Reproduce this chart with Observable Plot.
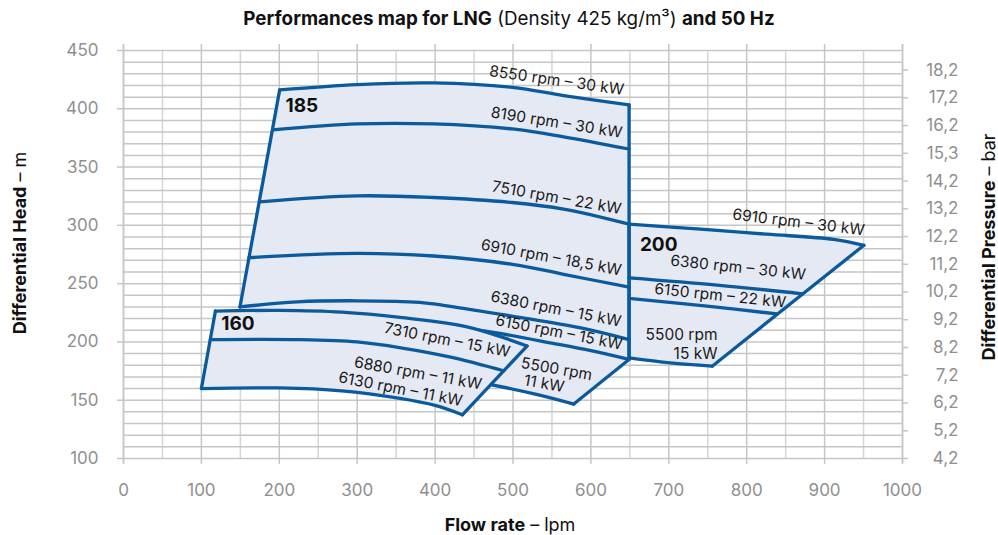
<!DOCTYPE html>
<html><head><meta charset="utf-8">
<script src="https://cdn.jsdelivr.net/npm/d3@7"></script>
<script src="https://cdn.jsdelivr.net/npm/@observablehq/plot@0.6"></script>
<style>
body{margin:0;background:#fff;}
#chart{width:998px;height:535px;}
</style>
</head><body><div id="chart"></div>
<script>
// ---- Data (flow rate lpm, differential head m) ----
// Impeller 185
const r185_8550 = [[200.5,416.2],[300,420.8],[398,422.2],[499,418.4],[565,411.3],[649,403.3]];
const r185_8190 = [[191.5,382],[300,387],[398,387],[499,382.7],[565,376],[649,365.5]];
const r185_7510 = [[174.5,320.2],[300,325.3],[398,323.9],[499,319.6],[565,313.9],[649,301]];
const r185_6910 = [[161,272.3],[300,276],[398,273.7],[499,266.6],[565,258],[649,247]];
const r185_6380 = [[149.5,230],[223,234.4],[300,235.3],[380,234],[415,231],[500,222],[587,212],[649,202]];
const r185_6150 = [[355,218],[420,213.5],[477,208],[550,199],[600,192.5],[649,185]];
const r185_5500 = [[420,169],[471,163.4],[530,155],[578,146.7]];
const r185_left = [[200.5,416.2],[149.5,230]];
const r185_right = [[649,403.3],[649,185]];
const r185_diag = [[649,185],[578,146.7]];
const r185_hidden = [[300,200],[160,222]];
// Impeller 200
const r200_6910 = [[649,301],[741,296.7],[826,292.4],[911.6,288],[950.4,282.9]];
const r200_6380 = [[649,255],[762,248.8],[871,241.3]];
const r200_6150 = [[649,237.3],[749,230.7],[839,224]];
const r200_5500 = [[649,186.3],[702,182],[755.7,179.2]];
const r200_right = [[950.4,282.9],[755.7,179.2]];
const r200_left = [[649,301],[649,186.3]];
// Impeller 160
const r160_7310 = [[118,226.5],[200,227],[280,225.5],[355,221],[441,213],[518,196.5]];
const r160_6880 = [[111.5,202],[227,202],[300,200],[356,195],[420,187],[488,175.3]];
const r160_6130 = [[100,160],[200,160.5],[280,158],[355,151.5],[400,145.5],[435,137.5]];
const r160_left = [[118,226.5],[100,160]];
const r160_right = [[518,196.5],[435,137.5]];

// Curve labels
const labelText = ["8550 rpm – 30 kW","8190 rpm – 30 kW","7510 rpm – 22 kW","6910 rpm – 18,5 kW","6380 rpm – 15 kW","6150 rpm – 15 kW","7310 rpm – 15 kW","6880 rpm – 11 kW","6130 rpm – 11 kW","5500 rpm","11 kW","6910 rpm – 30 kW","6380 rpm – 30 kW","6150 rpm – 22 kW"];
const labelX = [556,556,556,549,555,559,415.5,378,355.5,556,540,866.5,789,766];
const labelY = [424.2,388.1,323.6,272.4,228.2,208.1,201.5,173,159.4,176.6,164.1,302.5,263.7,239.6];
const labelAngle = [8,9,10,10.5,11,11,11,10,11,10,10,7,6,6];
const label200Text = ["5500 rpm","15 kW"];
const label200X = [762.5,762.5];
const label200Y = [206,190];
const regionText = ["185","200","160"];
const regionX = [229,687,147];
const regionY = [402.3,283.6,215.7];

// Axis ticks
const xTicks = [0,100,200,300,400,500,600,700,800,900,1000];
const yTicks = [100,150,200,250,300,350,400,450];
const barLabels = ["4,2","5,2","6,2","7,2","8,2","9,2","10,2","11,2","12,2","13,2","14,2","15,3","16,2","17,2","18,2"];
const barHead = [100,123.8,147.6,171.4,195.2,219,242.8,266.6,290.4,314.2,338,361.8,385.6,409.4,433.2];

// ---- Build tables ----
const blue = "#0b5a9d", fillC = "#e4e9f4", gridC = "#c6c6c6", gridL = "#d6d6d6", tickC = "#8f8f8f";
const toRows = (segs) => segs.flatMap((s, i) => s.map(p => ({id: i, x: p[0], y: p[1]})));
const lines185 = toRows([r185_8550,r185_8190,r185_7510,r185_6910,r185_6380,r185_6150,r185_5500,r185_left,r185_right,r185_diag]);
const lines200 = toRows([r200_6910,r200_6380,r200_6150,r200_5500,r200_right,r200_left]);
const lines160 = toRows([r160_7310,r160_6880,r160_6130,r160_left,r160_right]);
const poly185 = [...r185_8550, r185_diag[0], ...r185_5500.slice().reverse(), ...r185_hidden, r185_left[1]];
const poly200 = [...r200_6910, ...r200_5500.slice().reverse()];
const poly160 = [...r160_7310, ...r160_6130.slice().reverse()];
const labels = labelText.map((t,i)=>({t, x: labelX[i], y: labelY[i], a: labelAngle[i]}));
const labels200 = label200Text.map((t,i)=>({t, x: label200X[i], y: label200Y[i]}));
const regions = regionText.map((t,i)=>({t, x: regionX[i], y: regionY[i]}));
const bars = barLabels.map((t,i)=>({t, y: barHead[i]}));
const gridX = d3.range(0, 1001, 50);
const gridY = d3.range(100, 451, 10);

const lineOpts = {x: "x", y: "y", z: "id", stroke: blue, strokeWidth: 3.3, curve: "catmull-rom"};
const polyOpts = {x: d=>d[0], y: d=>d[1], fill: fillC, stroke: "none", curve: "linear"};
const font = "Inter, 'Open Sans', sans-serif";

const chart = Plot.plot({
  width: 998, height: 535,
  marginLeft: 123, marginRight: 96, marginTop: 50, marginBottom: 77,
  style: {fontFamily: font, background: "#fff"},
  x: {domain: [0, 1000], axis: null},
  y: {domain: [100, 450], axis: null},
  marks: [
    Plot.ruleX(gridX, {x: d=>d, y1: 450, y2: 100, stroke: d => d % 100 ? gridL : gridC, strokeWidth: 1.5}),
    Plot.ruleY(gridY, {y: d=>d, x1: 0, x2: 1000, stroke: gridC, strokeWidth: 1.5}),
    Plot.ruleX([0, 1000], {x: d=>d, y1: 450, y2: 100, insetTop: -6, insetBottom: -5, stroke: gridC, strokeWidth: 1.5}),
    Plot.ruleX(xTicks, {x: d=>d, y1: 100, y2: 100, insetBottom: -6, stroke: gridC, strokeWidth: 1.5}),
    Plot.ruleX(xTicks, {x: d=>d, y1: 450, y2: 450, insetTop: -6, stroke: gridC, strokeWidth: 1.5}),
    Plot.ruleY(yTicks, {y: d=>d, x1: 0, x2: 0, insetLeft: -6, stroke: gridC, strokeWidth: 1.5}),
    Plot.ruleY(bars, {y: "y", x1: 1000, x2: 1000, insetRight: -6, stroke: gridC, strokeWidth: 1.5}),
    Plot.text(xTicks, {x: d=>d, y: 100, dy: 32, text: d=>String(d), fill: tickC, fontSize: 17}),
    Plot.text(yTicks, {x: 0, y: d=>d, dx: -25, textAnchor: "end", text: d=>String(d), fill: tickC, fontSize: 17}),
    Plot.text(bars, {x: 1000, y: "y", dx: 56, textAnchor: "end", text: "t", fill: tickC, fontSize: 17}),
    Plot.line(poly185, polyOpts),
    Plot.line(poly200, polyOpts),
    Plot.line(lines185, lineOpts),
    Plot.line(lines200, lineOpts),
    Plot.line(poly160, polyOpts),
    Plot.line(lines160, lineOpts),
    Plot.text(labels, {x: "x", y: "y", text: "t", rotate: "a", fontSize: 15.5, fill: "#1a1a1a"}),
    Plot.text(labels200, {x: "x", y: "y", text: "t", textAnchor: "end", fontSize: 15.5, fill: "#1a1a1a"}),
    Plot.text(regions, {x: "x", y: "y", text: "t", fontSize: 19, fontWeight: "bold", fill: "#111"})
  ]
});
document.getElementById("chart").appendChild(chart);

// Rich-text titles
const svg = d3.select(chart);
function rich(x, y, parts, rot, size) {
  const t = svg.append("text").attr("text-anchor", "middle")
    .attr("font-family", font).attr("font-size", size).attr("fill", "#111")
    .attr("transform", `translate(${x},${y})` + (rot ? ` rotate(${rot})` : ""));
  parts.forEach(([s, b]) => t.append("tspan").attr("font-weight", b ? "bold" : "normal").text(s));
}
rich(509, 25, [["Performances map for LNG", true], [" (Density 425 kg/m³) ", false], ["and 50 Hz", true]], 0, 18.8);
rich(510, 531, [["Flow rate", true], [" – lpm", false]], 0, 18);
rich(26, 243, [["Differential Head", true], [" – m", false]], -90, 18);
rich(995, 247, [["Differential Pressure", true], [" – bar", false]], -90, 18);
</script>
</body></html>
